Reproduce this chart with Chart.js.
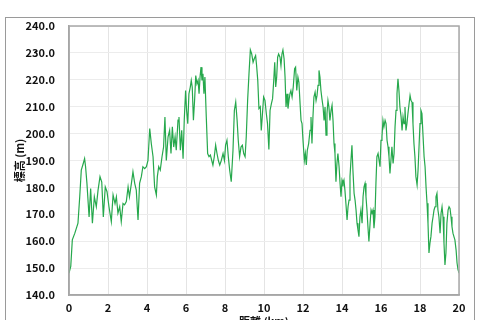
<!DOCTYPE html>
<html>
<head>
<meta charset="utf-8">
<script src="https://cdn.jsdelivr.net/npm/chart.js@4.4.1/dist/chart.umd.min.js"></script>
<style>
  html, body { margin: 0; padding: 0; background: #fff; overflow: hidden; }
  #wrap { position: relative; width: 480px; height: 340px; }
</style>
</head>
<body>
<div id="wrap"><canvas id="myChart"></canvas></div>
<script>
// distance along the route (km) and elevation (m)
const distanceKm = [
  0, 0.09, 0.17, 0.3, 0.46, 0.55, 0.63, 0.72, 0.8, 0.85,
  0.92, 1.03, 1.11, 1.2, 1.3, 1.4, 1.49, 1.59, 1.68, 1.76,
  1.86, 1.95, 2.05, 2.17, 2.26, 2.36, 2.43, 2.51, 2.6, 2.68,
  2.77, 2.85, 2.94, 3.03, 3.1, 3.2, 3.28, 3.37, 3.45, 3.54,
  3.62, 3.71, 3.79, 3.88, 3.97, 4.05, 4.14, 4.22, 4.31, 4.39,
  4.48, 4.53, 4.6, 4.68, 4.77, 4.85, 4.92, 4.99, 5.08, 5.16,
  5.23, 5.3, 5.37, 5.44, 5.5, 5.59, 5.64, 5.71, 5.78, 5.85,
  5.91, 5.98, 6.03, 6.09, 6.15, 6.22, 6.27, 6.32, 6.38, 6.44,
  6.5, 6.56, 6.62, 6.67, 6.72, 6.77, 6.82, 6.87, 6.92, 6.97,
  7.04, 7.11, 7.18, 7.25, 7.32, 7.38, 7.45, 7.52, 7.59, 7.66,
  7.73, 7.81, 7.9, 7.97, 8.03, 8.1, 8.17, 8.24, 8.32, 8.41,
  8.48, 8.55, 8.62, 8.68, 8.75, 8.82, 8.89, 8.96, 9.03, 9.09,
  9.16, 9.23, 9.3, 9.37, 9.44, 9.5, 9.57, 9.62, 9.68, 9.74,
  9.81, 9.86, 9.91, 9.98, 10.05, 10.12, 10.18, 10.25, 10.31, 10.38,
  10.44, 10.5, 10.55, 10.6, 10.65, 10.7, 10.75, 10.82, 10.87, 10.92,
  10.97, 11.03, 11.08, 11.13, 11.18, 11.23, 11.28, 11.33, 11.38, 11.44,
  11.5, 11.57, 11.62, 11.68, 11.74, 11.79, 11.85, 11.9, 11.95, 12.0,
  12.07, 12.12, 12.17, 12.22, 12.29, 12.36, 12.41, 12.46, 12.51, 12.56,
  12.62, 12.67, 12.72, 12.77, 12.82, 12.87, 12.92, 12.97, 13.03, 13.08,
  13.13, 13.18, 13.23, 13.28, 13.33, 13.38, 13.44, 13.49, 13.54, 13.59,
  13.64, 13.69, 13.74, 13.79, 13.85, 13.9, 13.95, 14.0, 14.05, 14.1,
  14.15, 14.2, 14.26, 14.31, 14.36, 14.41, 14.46, 14.51, 14.56, 14.62,
  14.67, 14.72, 14.77, 14.82, 14.87, 14.92, 14.97, 15.03, 15.08, 15.13,
  15.18, 15.23, 15.28, 15.33, 15.38, 15.44, 15.49, 15.54, 15.59, 15.64,
  15.69, 15.74, 15.79, 15.85, 15.9, 15.95, 16.0, 16.05, 16.1, 16.15,
  16.21, 16.26, 16.31, 16.36, 16.41, 16.46, 16.51, 16.56, 16.62, 16.67,
  16.72, 16.77, 16.82, 16.87, 16.92, 16.97, 17.03, 17.08, 17.13, 17.18,
  17.23, 17.28, 17.33, 17.38, 17.44, 17.49, 17.54, 17.59, 17.64, 17.69,
  17.74, 17.79, 17.85, 17.9, 17.95, 18.0, 18.05, 18.1, 18.15, 18.21,
  18.26, 18.31, 18.36, 18.41, 18.46, 18.51, 18.56, 18.62, 18.67, 18.72,
  18.77, 18.82, 18.87, 18.92, 18.97, 19.03, 19.08, 19.13, 19.18, 19.23,
  19.28, 19.33, 19.38, 19.44, 19.49, 19.54, 19.59, 19.64, 19.69, 19.74,
  19.79, 19.85, 19.9, 19.95, 20.0
];

const elevationM = [
  148.1, 150.6, 160.5, 163, 166.7, 176.5, 186.4, 188.6, 190.7, 187.7,
  181.5, 169, 179.6, 166.7, 176.5, 172.8, 179, 184, 182, 169,
  180.2, 178.4, 172.8, 167.3, 177.2, 174, 176.5, 170.4, 172.8, 167.3,
  174, 173.5, 174.7, 180.2, 176.5, 181.5, 185.8, 181.5, 179, 167.9,
  181.5, 184, 187.7, 187, 187.7, 190, 201.9, 196.3, 191.4, 180.2,
  177.2, 184, 187.7, 186.4, 191.4, 195, 206.2, 190, 198.8, 201.2,
  192.6, 202.5, 195, 198.8, 193.8, 205, 206.2, 193.8, 201.2, 190.7,
  205, 216, 208.6, 203.7, 214.8, 217.3, 219.8, 217.3, 205, 212.3,
  221.6, 218.5, 219.8, 214.8, 221, 224.7, 219.8, 222.2, 214.8, 221,
  206.2, 192.6, 191.4, 192, 190, 188.3, 191.4, 195.7, 192.6, 190,
  188.3, 190, 192.6, 190, 195.7, 197.5, 191.4, 186.4, 182.1, 193.8,
  208.6, 211.7, 205, 197.5, 191.4, 195, 195.7, 192.6, 191.4, 198.8,
  212.3, 222.2, 231.1, 229.6, 226.5, 227.8, 229, 225.3, 219.8, 209.3,
  210, 201.2, 206.2, 213.6, 212.3, 207.4, 203.7, 194.1, 208.6, 211.1,
  213, 219.8, 226.5, 217.3, 221, 228.4, 229.6, 228.4, 225.3, 229.6,
  231.1, 227.8, 221, 209.9, 214.8, 209.3, 212.3, 214.8, 216, 213.6,
  217.3, 224.1, 224.7, 216, 221, 219.1, 211.1, 204.9, 203.7, 197.5,
  190, 192.6, 188.3, 193.8, 196.3, 201.2, 206.2, 196.3, 206.2, 213.6,
  215.4, 212.3, 214.2, 217.9, 223.5, 221, 216, 213, 209.9, 204.9,
  209.9, 199.4, 207.4, 212.3, 209.9, 204.9, 208.6, 210.5, 204.9, 196.3,
  192.6, 182.1, 188.9, 192.6, 187.7, 181.5, 176.5, 182.7, 181.5, 182.7,
  179, 174.1, 167.9, 172.8, 175.3, 184, 190.1, 195.7, 186.4, 177.8,
  175.3, 171.6, 166.7, 164.2, 161.7, 169.1, 171.6, 166.7, 176.5, 180.2,
  181.5, 176.5, 171.6, 165.4, 159.9, 166.7, 171.6, 170.4, 171.6, 164.8,
  169.1, 181.5, 191.4, 192.6, 190.1, 187.7, 197.5, 198.8, 204.9, 202.5,
  204.9, 203.7, 197.5, 195.1, 191.4, 185.2, 190.1, 195.1, 188.9, 192.6,
  202.5, 208.6, 214.8, 220.4, 216, 209.9, 206.2, 201.2, 206.2, 203.7,
  209.9, 201.2, 203.7, 207.4, 211.1, 214.2, 212.3, 211.7, 203.7, 196.3,
  191.4, 184, 180.9, 186.4, 195.1, 203.7, 208.6, 207.4, 200, 191.4,
  187.7, 180.2, 174.1, 166.7, 155.6, 159.3, 161.7, 166.7, 169.1, 171.6,
  172.8, 176.5, 177.8, 171.6, 169.1, 163, 170.4, 172.8, 169.1, 159.3,
  151.2, 155.6, 166.7, 171.6, 172.8, 172.2, 169.1, 165.4, 163, 161.7,
  160.5, 156.8, 151.9, 149.4, 148.1
];

const xTitle = '距離 (km)';
const yTitle = '標高 (m)';
const xMin = 0, xMax = 20, xStep = 2;
const yMin = 140, yMax = 240, yStep = 10;

const FONT = '"Noto Sans CJK JP", "Noto Sans", sans-serif';

// outer frame and the plot box border
const framePlugin = {
  id: 'frame',
  beforeDraw(chart) {
    const ctx = chart.ctx;
    ctx.save();
    ctx.fillStyle = '#fff';
    ctx.fillRect(0, 0, chart.width, chart.height);
    ctx.strokeStyle = '#9a9a9a';
    ctx.lineWidth = 1;
    ctx.strokeRect(5.5, 17.5, 469, 400);
    ctx.restore();
  },
  afterDraw(chart) {
    const { left, top, right, bottom } = chart.chartArea;
    const ctx = chart.ctx;
    ctx.save();
    ctx.strokeStyle = '#a8a8a8';
    ctx.lineWidth = 1.5;
    ctx.strokeRect(left, top, right - left, bottom - top);
    ctx.restore();
  }
};

new Chart(document.getElementById('myChart'), {
  type: 'line',
  data: {
    datasets: [{
      data: distanceKm.map((d, i) => ({ x: d, y: elevationM[i] })),
      borderColor: 'rgb(38,168,76)',
      borderWidth: 1.2,
      pointRadius: 0,
      tension: 0,
      fill: false,
    }]
  },
  options: {
    responsive: true,
    maintainAspectRatio: false,
    animation: false,
    layout: { padding: { top: 26, right: 21, left: 0, bottom: 0 } },
    plugins: {
      legend: { display: false },
      tooltip: { enabled: false },
    },
    scales: {
      x: {
        type: 'linear',
        min: xMin,
        max: xMax,
        afterFit: (s) => { s.height = 45; },
        ticks: {
          stepSize: xStep,
          padding: 6,
          color: '#111',
          font: { family: FONT, size: 11, weight: 'bold' },
          maxRotation: 0,
        },
        grid: { color: '#e4e4e4', drawTicks: false },
        border: { color: '#a0a0a0', width: 1.5 },
        title: {
          display: true,
          text: xTitle,
          color: '#111',
          font: { family: FONT, size: 11, weight: 'bold' },
          padding: { top: 0, bottom: 12 },
        },
      },
      y: {
        min: yMin,
        max: yMax,
        afterFit: (s) => { s.width = 69; },
        ticks: {
          stepSize: yStep,
          padding: 14,
          color: '#111',
          font: { family: FONT, size: 11, weight: 'bold' },
          callback: (v) => v.toFixed(1),
        },
        grid: { color: '#ececec', drawTicks: false },
        border: { color: '#a0a0a0', width: 1.5 },
        title: {
          display: true,
          text: yTitle,
          color: '#111',
          font: { family: FONT, size: 11, weight: 'bold' },
          padding: { top: 13, bottom: 0 },
        },
      }
    }
  },
  plugins: [framePlugin]
});
</script>
</body>
</html>
